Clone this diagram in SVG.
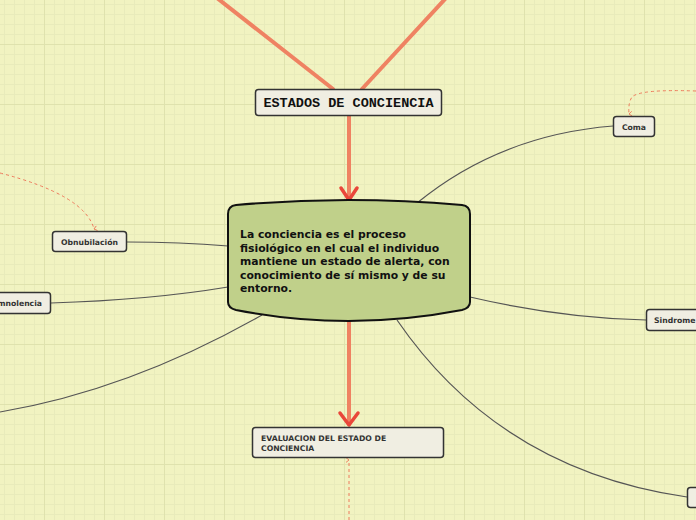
<svg xmlns="http://www.w3.org/2000/svg" width="696" height="520" viewBox="0 0 696 520">
<defs>
<pattern id="minor" patternUnits="userSpaceOnUse" x="4" y="4" width="10" height="10">
<path d="M0 0.5H10M0.5 0V10" stroke="#e8ebbb" stroke-width="1" fill="none"/>
</pattern>
<pattern id="major" patternUnits="userSpaceOnUse" x="44" y="44" width="60" height="60">
<path d="M0 0.5H60M0.5 0V60" stroke="#dfe2ae" stroke-width="1" fill="none"/>
</pattern>
<marker id="dashArrow" viewBox="0 0 10 10" refX="5" refY="8" markerWidth="6" markerHeight="6" orient="auto-start-reverse" markerUnits="userSpaceOnUse">
<path d="M1 3L5 8L9 3" fill="none" stroke="#ee7a5c" stroke-width="1.5"/>
</marker>
</defs>
<style>
.thick{stroke:#ef8262;stroke-width:4;fill:none;stroke-linecap:round}
.head{stroke:#e9473a;stroke-width:3.5;fill:none;stroke-linecap:round;stroke-linejoin:round}
.conn{stroke:#555;stroke-width:1.2;fill:none}
.dash{stroke:#ee7a5c;stroke-width:1;fill:none;stroke-dasharray:3 3}
.box{fill:#f0eee2;stroke:#333;stroke-width:1.5}
.lbl{font-family:"DejaVu Sans","Open Sans",sans-serif;font-weight:bold;font-size:7.7px;fill:#333}
</style>
<rect width="696" height="520" fill="#f1f3c1"/>
<rect width="696" height="520" fill="url(#minor)"/>
<rect width="696" height="520" fill="url(#major)"/>

<g id="connectors">
<line class="thick" x1="217" y1="-2" x2="333" y2="89"/>
<line class="thick" x1="446" y1="-2" x2="362" y2="89"/>
<line class="thick" x1="349" y1="116" x2="349" y2="199"/>
<path class="head" d="M341 188L349 200L357 188"/>
<line class="thick" x1="349" y1="321" x2="349" y2="424"/>
<path class="head" d="M340 413L349 425L358 413"/>
<path class="conn" d="M417 203Q500 135 613 126"/>
<path class="conn" d="M228 246Q180 242 127 242"/>
<path class="conn" d="M228 287Q150 300 51 303"/>
<path class="conn" d="M262 315Q130 390 0 412"/>
<path class="conn" d="M470 297Q560 318 646 320"/>
<path class="conn" d="M397 320Q500 470 687 497"/>
<path class="dash" d="M696 91Q640 89 632 97Q628 103 629 114" marker-end="url(#dashArrow)"/>
<path class="dash" d="M0 173Q85 195 94 229" marker-end="url(#dashArrow)"/>
<path class="dash" d="M349 520L349 460" marker-end="url(#dashArrow)"/>
</g>

<g id="estados">
<rect class="box" x="255.5" y="89.5" width="186" height="26" rx="3" stroke="#222" stroke-width="2"/>
<text x="348.5" y="107" text-anchor="middle" font-family="'Liberation Mono','Courier New',monospace" font-weight="bold" font-size="13.5" fill="#111">ESTADOS DE CONCIENCIA</text>
</g>

<g id="central">
<path d="M236 205Q348 195 462 205Q470 206 470 214L470 302Q470 308 462 310Q348 332 236 310Q228 308 228 302L228 214Q228 206 236 205Z" fill="#c0d08a" stroke="#111" stroke-width="2"/>
<text font-family="'DejaVu Sans','Open Sans',sans-serif" font-weight="bold" font-size="10.8" fill="#111">
<tspan x="240" y="238">La conciencia es el proceso</tspan>
<tspan x="240" y="251.5">fisiológico en el cual el individuo</tspan>
<tspan x="240" y="265">mantiene un estado de alerta, con</tspan>
<tspan x="240" y="278.5">conocimiento de sí mismo y de su</tspan>
<tspan x="240" y="292">entorno.</tspan>
</text>
</g>

<g id="evaluacion">
<rect class="box" x="252.5" y="427.5" width="191" height="30" rx="3"/>
<text class="lbl" font-size="8"><tspan x="261" y="441">EVALUACION DEL ESTADO DE</tspan><tspan x="261" y="451">CONCIENCIA</tspan></text>
</g>

<g id="coma">
<rect class="box" x="613.5" y="116.5" width="41" height="20" rx="3"/>
<text class="lbl" x="634" y="130" text-anchor="middle">Coma</text>
</g>

<g id="obnubilacion">
<rect class="box" x="52.5" y="231.5" width="74" height="20" rx="3"/>
<text class="lbl" x="89.5" y="245" text-anchor="middle">Obnubilación</text>
</g>

<g id="somnolencia">
<rect class="box" x="-26" y="292.5" width="76.5" height="21" rx="3"/>
<text class="lbl" x="42" y="306" text-anchor="end">Somnolencia</text>
</g>

<g id="sindrome">
<rect class="box" x="646.5" y="309.5" width="60" height="21" rx="3"/>
<text class="lbl" x="654" y="323">Sindrome</text>
</g>

<g id="nodo-inferior">
<rect class="box" x="687.5" y="487.5" width="20" height="20" rx="3"/>
</g>
</svg>
